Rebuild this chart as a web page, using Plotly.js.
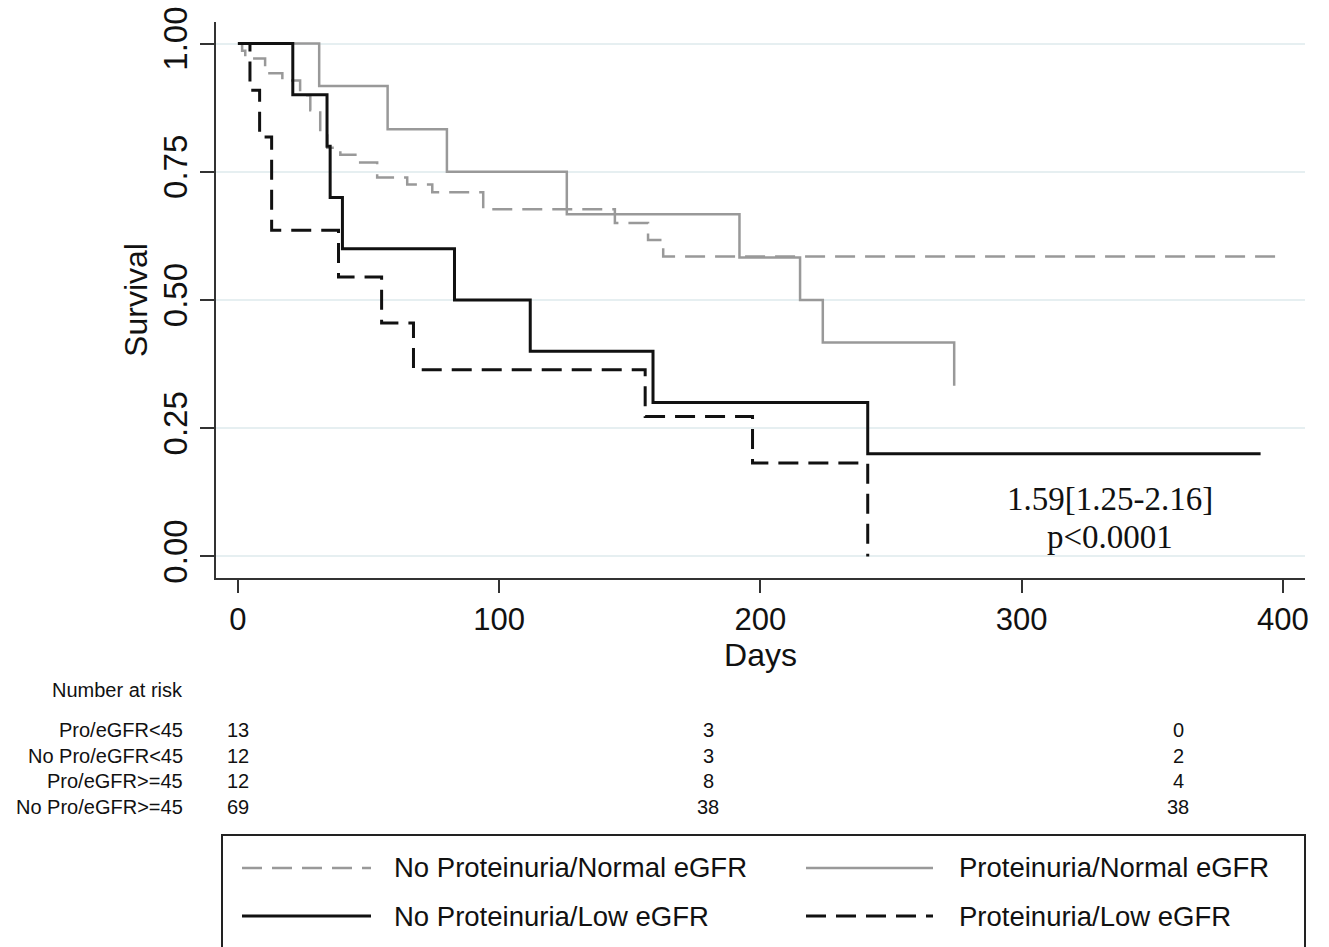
<!DOCTYPE html>
<html>
<head>
<meta charset="utf-8">
<script src="https://cdn.plot.ly/plotly-3.0.1.min.js"></script>
<style>html,body{margin:0;padding:0;background:#fff;}#chart{width:1329px;height:947px;}</style>
</head>
<body>
<div id="chart"></div>
<script>
// ---- Data ----
// No Proteinuria/Normal eGFR (gray dashed)
const noProNormalDays = [0, 1.6, 2.8, 10.4, 17, 23.8, 27.7, 31.5, 34.2, 39.2, 46.8, 53.3, 64.8, 74.4, 93.9, 144.3, 157, 162.8, 399];
const noProNormalSurv = [1, 0.986, 0.971, 0.942, 0.928, 0.899, 0.870, 0.826, 0.797, 0.783, 0.768, 0.739, 0.725, 0.710, 0.677, 0.650, 0.617, 0.585, 0.585];
// Proteinuria/Normal eGFR (gray solid)
const proNormalDays = [0, 31.1, 57.3, 80, 125.9, 192, 215.2, 223.9, 274.2];
const proNormalSurv = [1, 0.917, 0.833, 0.750, 0.667, 0.583, 0.500, 0.417, 0.333];
// No Proteinuria/Low eGFR (black solid)
const noProLowDays = [0, 21, 34.1, 35.3, 40, 82.9, 111.9, 158.9, 241.1, 391.5];
const noProLowSurv = [1, 0.9, 0.8, 0.7, 0.6, 0.5, 0.4, 0.3, 0.2, 0.2];
// Proteinuria/Low eGFR (black dashed)
const proLowDays = [0, 4.6, 8.3, 12.9, 38.5, 55, 67.2, 155.9, 197, 241.1];
const proLowSurv = [1, 0.909, 0.818, 0.636, 0.545, 0.455, 0.364, 0.273, 0.182, 0];

const seriesNames = ['No Proteinuria/Normal eGFR', 'Proteinuria/Normal eGFR', 'No Proteinuria/Low eGFR', 'Proteinuria/Low eGFR'];

// Number at risk table
const riskTimes = [0, 180, 360];
const riskLabels = ['Pro/eGFR&lt;45', 'No Pro/eGFR&lt;45', 'Pro/eGFR&gt;=45', 'No Pro/eGFR&gt;=45'];
const riskProLow = [13, 3, 0];
const riskNoProLow = [12, 3, 2];
const riskProNormal = [12, 8, 4];
const riskNoProNormal = [69, 38, 38];
const riskRows = [riskProLow, riskNoProLow, riskProNormal, riskNoProNormal];

const yTickVals = [0, 0.25, 0.5, 0.75, 1];
const yTickText = ['0.00', '0.25', '0.50', '0.75', '1.00'];
const xTickVals = [0, 100, 200, 300, 400];

const hrText = '1.59[1.25-2.16]';
const pText = 'p&lt;0.0001';

// ---- Styles ----
const GRAY = '#999999';
const BLACK = '#111111';
const DASH = '20px,10px';
const SANS = 'Liberation Sans, Arial, sans-serif';
const SERIF = 'Liberation Serif, Times New Roman, serif';

const traces = [
  {x: noProNormalDays, y: noProNormalSurv, name: seriesNames[0], mode: 'lines',
   line: {shape: 'hv', color: GRAY, width: 2.5, dash: DASH}},
  {x: proNormalDays, y: proNormalSurv, name: seriesNames[1], mode: 'lines',
   line: {shape: 'hv', color: GRAY, width: 2.5}},
  {x: noProLowDays, y: noProLowSurv, name: seriesNames[2], mode: 'lines',
   line: {shape: 'hv', color: BLACK, width: 3}},
  {x: proLowDays, y: proLowSurv, name: seriesNames[3], mode: 'lines',
   line: {shape: 'hv', color: BLACK, width: 3, dash: DASH}}
];

// paper y from pixel row (plot area: top 22, bottom 578)
const T = 22, B = 578, L = 216, R = 1305;
const py = px => (B - px) / (B - T);
const pxX = px => (px - L) / (R - L);

const annotations = [];
annotations.push({xref: 'x', yref: 'y', x: 333.9, y: 0.113, text: hrText, showarrow: false,
  font: {family: SERIF, size: 33, color: '#111'}, xanchor: 'center', yanchor: 'middle'});
annotations.push({xref: 'x', yref: 'y', x: 333.9, y: 0.038, text: pText, showarrow: false,
  font: {family: SERIF, size: 33, color: '#111'}, xanchor: 'center', yanchor: 'middle'});

// Number at risk
annotations.push({xref: 'paper', yref: 'paper', x: pxX(185), y: py(690), text: 'Number at risk',
  showarrow: false, xanchor: 'right', yanchor: 'middle', font: {family: SANS, size: 20, color: '#111'}});
const rowPx = [730, 756, 781, 807];
riskLabels.forEach((lab, i) => {
  annotations.push({xref: 'paper', yref: 'paper', x: pxX(185), y: py(rowPx[i]), text: lab,
    showarrow: false, xanchor: 'right', yanchor: 'middle', font: {family: SANS, size: 20, color: '#111'}});
  riskRows[i].forEach((v, j) => {
    annotations.push({xref: 'x', yref: 'paper', x: riskTimes[j], y: py(rowPx[i]), text: String(v),
      showarrow: false, xanchor: 'center', yanchor: 'middle', font: {family: SANS, size: 20, color: '#111'}});
  });
});

// Legend (custom, Stata style)
const shapes = [];
shapes.push({type: 'rect', xref: 'paper', yref: 'paper', x0: pxX(222), x1: pxX(1305), y0: py(835), y1: py(990),
  line: {color: '#222', width: 2}, fillcolor: 'rgba(0,0,0,0)'});
const legItems = [
  {name: seriesNames[0], color: GRAY, width: 2.5, dash: DASH, lx0: 242, lx1: 371, tx: 392, ry: 868},
  {name: seriesNames[1], color: GRAY, width: 2.5, dash: 'solid', lx0: 806, lx1: 933, tx: 957, ry: 868},
  {name: seriesNames[2], color: BLACK, width: 3, dash: 'solid', lx0: 242, lx1: 371, tx: 392, ry: 916},
  {name: seriesNames[3], color: BLACK, width: 3, dash: DASH, lx0: 806, lx1: 933, tx: 957, ry: 916}
];
legItems.forEach(it => {
  shapes.push({type: 'line', xref: 'paper', yref: 'paper', x0: pxX(it.lx0), x1: pxX(it.lx1), y0: py(it.ry), y1: py(it.ry),
    line: {color: it.color, width: it.width, dash: it.dash}});
  annotations.push({xref: 'paper', yref: 'paper', x: pxX(it.tx), y: py(it.ry), text: it.name, showarrow: false,
    xanchor: 'left', yanchor: 'middle', font: {family: SANS, size: 27.5, color: '#111'}});
});

const layout = {
  width: 1329, height: 947,
  margin: {l: L, r: 1329 - R, t: T, b: 947 - B, pad: 0},
  paper_bgcolor: '#fff', plot_bgcolor: '#fff',
  showlegend: false,
  xaxis: {
    range: [-8.4, 408.5], tickvals: xTickVals, ticks: 'outside', ticklen: 13, tickwidth: 2, tickcolor: '#333',
    showline: true, linewidth: 2, linecolor: '#333', showgrid: false, zeroline: false,
    tickfont: {family: SANS, size: 31, color: '#111'},
    title: {text: 'Days', font: {family: SANS, size: 32, color: '#111'}, standoff: 4},
    automargin: false
  },
  yaxis: {
    range: [-0.042, 1.042], tickvals: yTickVals, ticktext: yTickText, tickangle: -90,
    ticks: 'outside', ticklen: 14, tickwidth: 2, tickcolor: '#333',
    showline: true, linewidth: 2, linecolor: '#333',
    showgrid: true, gridcolor: '#e6eff1', gridwidth: 2, zeroline: false,
    tickfont: {family: SANS, size: 33, color: '#111'},
    title: {text: 'Survival', font: {family: SANS, size: 32, color: '#111'}, standoff: 0},
    automargin: false
  },
  annotations: annotations,
  shapes: shapes
};

Plotly.newPlot('chart', traces, layout, {staticPlot: true, displayModeBar: false});
</script>
</body>
</html>
